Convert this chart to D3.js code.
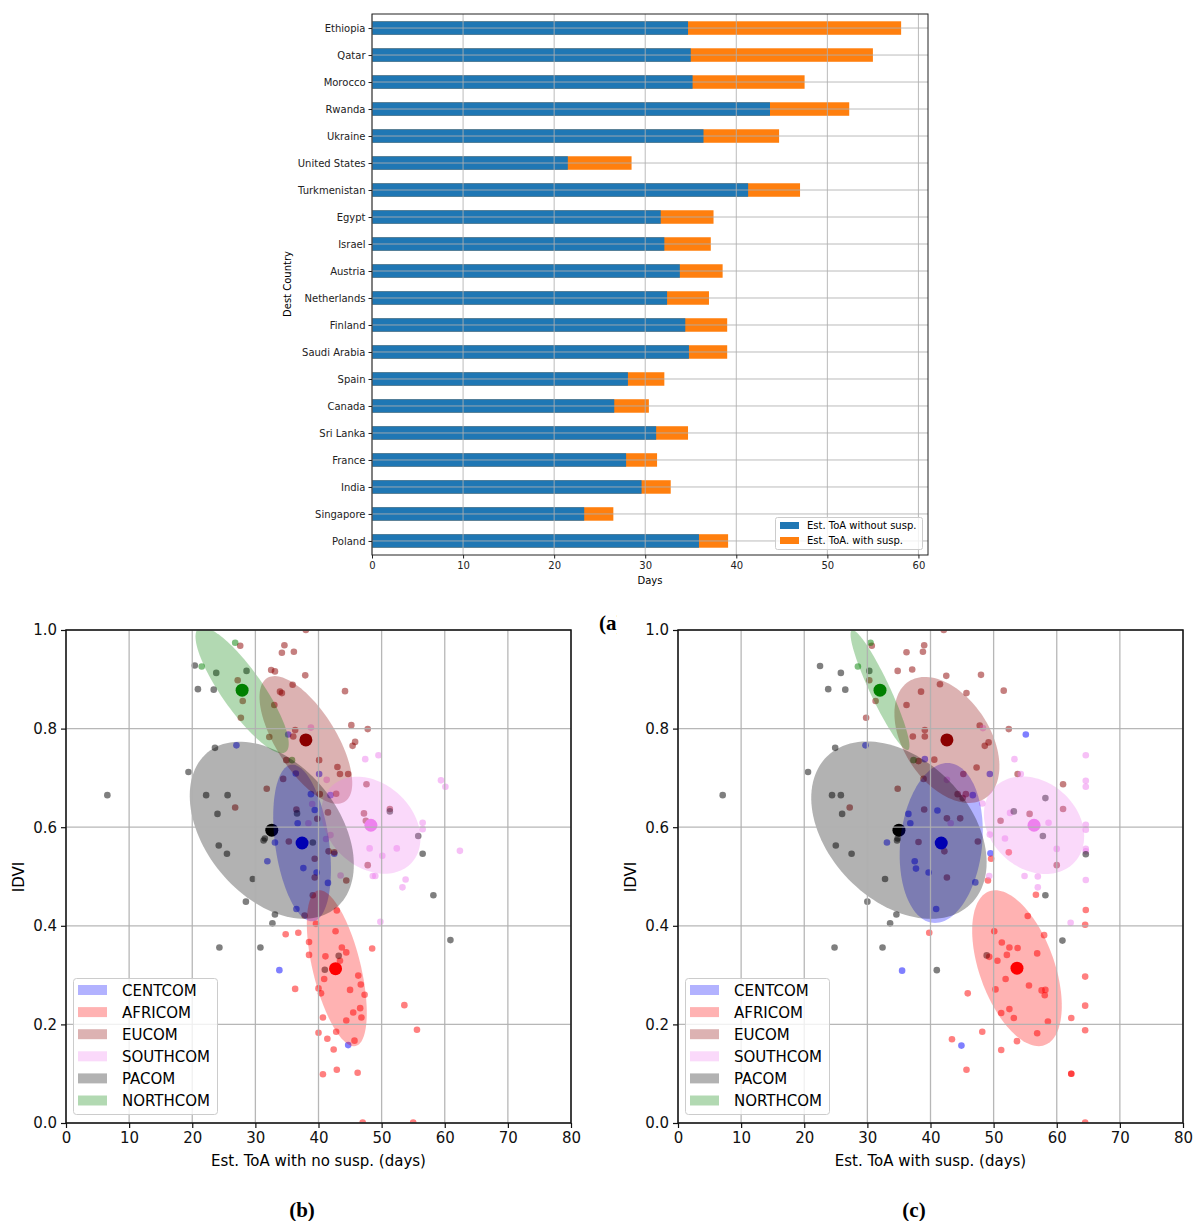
<!DOCTYPE html>
<html>
<head>
<meta charset="utf-8">
<script src="https://cdn.jsdelivr.net/npm/d3@7"></script>
<style>
  body { margin: 0; background: #fff; }
  text { font-family: "DejaVu Sans", sans-serif; }
</style>
</head>
<body>
<svg id="fig" width="1194" height="1221"></svg>
<script>
// ---- (a) bar chart data ----
var countries = ["Ethiopia", "Qatar", "Morocco", "Rwanda", "Ukraine", "United States", "Turkmenistan",
  "Egypt", "Israel", "Austria", "Netherlands", "Finland", "Saudi Arabia", "Spain", "Canada",
  "Sri Lanka", "France", "India", "Singapore", "Poland"];
var toaNoSusp = [34.7, 35.0, 35.2, 43.7, 36.4, 21.5, 41.3, 31.7, 32.1, 33.8, 32.4, 34.4, 34.8, 28.1, 26.6, 31.2, 27.9, 29.6, 23.3, 35.9];
var toaWithSusp = [58.1, 55.0, 47.5, 52.4, 44.7, 28.5, 47.0, 37.5, 37.2, 38.5, 37.0, 39.0, 39.0, 32.1, 30.4, 34.7, 31.3, 32.8, 26.5, 39.1];
var barTicks = [0, 10, 20, 30, 40, 50, 60];
var barLegend = ["Est. ToA without susp.", "Est. ToA. with susp."];

// ---- (b)/(c) scatter data ----
var groups = ["CENTCOM", "AFRICOM", "EUCOM", "SOUTHCOM", "PACOM", "NORTHCOM"];
var groupColors = ["blue", "red", "darkred", "violet", "black", "green"];
var scatterXTicks = [0, 10, 20, 30, 40, 50, 60, 70, 80];
var scatterYTicks = [0, 0.2, 0.4, 0.6, 0.8, 1.0];

// (b) Est. ToA with no susp.
var noSuspCENTCOM = [[27.0,0.766],[35.2,0.788],[36.4,0.709],[40.1,0.708],[41.9,0.665],[38.8,0.667],[39.4,0.635],
  [33.1,0.569],[31.9,0.531],[37.6,0.517],[39.7,0.508],[41.5,0.487],[36.7,0.608],[42.5,0.546],[36.5,0.434],
  [33.8,0.310],[44.7,0.158]];
var noSuspAFRICOM = [[39.6,0.404],[34.8,0.383],[36.8,0.386],[42.9,0.431],[42.7,0.389],[38.5,0.367],[38.5,0.341],
  [43.7,0.356],[44.4,0.346],[41.1,0.338],[43.4,0.329],[48.5,0.354],[40.9,0.292],[46.3,0.299],[46.7,0.281],
  [47.3,0.260],[36.3,0.272],[40.0,0.273],[40.4,0.263],[45.0,0.270],[46.6,0.233],[45.5,0.224],[46.8,0.214],
  [40.7,0.214],[44.4,0.208],[53.6,0.239],[55.6,0.189],[40.0,0.183],[42.8,0.185],[41.4,0.171],[45.7,0.167],
  [42.4,0.149],[40.7,0.099],[42.9,0.108],[46.2,0.102],[47.0,0.001],[55.0,0.001]];
var noSuspEUCOM = [[26.8,0.640],[31.8,0.678],[34.4,0.698],[35.3,0.571],[27.6,0.968],[27.2,0.898],[28.0,0.856],
  [27.7,0.822],[32.2,0.783],[33.0,0.848],[34.6,0.969],[34.2,0.954],[36.1,0.956],[32.5,0.919],[33.1,0.916],
  [35.9,0.889],[33.9,0.875],[34.2,0.872],[36.3,0.797],[36.0,0.784],[34.9,0.736],[38.0,1.0],[37.9,0.908],
  [44.2,0.876],[45.2,0.807],[47.8,0.799],[45.8,0.773],[45.4,0.765],[40.1,0.736],[43.0,0.722],[43.4,0.708],
  [44.7,0.708],[47.6,0.687],[42.8,0.668],[40.2,0.667],[41.5,0.630],[47.2,0.628],[47.5,0.613],[51.3,0.637],
  [47.8,0.523],[44.4,0.492],[42.5,0.549],[41.6,0.551],[39.4,0.536],[39.4,0.498],[39.1,0.462],[37.8,0.421],
  [36.5,0.636],[39.8,0.617]];
var noSuspSOUTHCOM = [[38.8,0.802],[47.4,0.738],[49.5,0.746],[59.4,0.695],[60.1,0.682],[41.3,0.696],[56.5,0.609],
  [56.5,0.596],[48.1,0.557],[52.4,0.557],[50.1,0.542],[62.4,0.552],[48.6,0.501],[49.0,0.501],[53.8,0.494],
  [53.3,0.478],[43.5,0.502],[41.2,0.576],[41.9,0.584],[49.8,0.408],[39.0,0.647],[38.4,0.608]];
var noSuspPACOM = [[6.55,0.665],[19.4,0.712],[23.6,0.761],[22.2,0.665],[25.6,0.665],[24.0,0.627],[24.2,0.563],
  [25.5,0.546],[31.5,0.577],[31.3,0.573],[29.6,0.495],[28.5,0.449],[20.4,0.928],[20.9,0.880],[23.4,0.879],
  [23.8,0.913],[28.6,0.917],[51.3,0.632],[55.8,0.582],[56.5,0.546],[58.2,0.462],[39.1,0.569],[36.6,0.628],
  [33.1,0.423],[32.7,0.405],[43.2,0.339],[41.0,0.311],[24.3,0.356],[30.8,0.356],[60.9,0.371]];
var noSuspNORTHCOM = [[21.5,0.926],[26.8,0.974],[35.8,0.736]];
var noSuspCentroids = [[37.4,0.568],[42.7,0.313],[38.0,0.777],[48.3,0.604],[32.6,0.594],[27.9,0.878]];
// ellipse: centre x, centre y, first semi-axis (dx, dy), second semi-axis (dx, dy)
var noSuspEllipses = [
  [37.4, 0.568, 1.74, -0.1587, -4.23, -0.0076],
  [42.9, 0.314, 2.99, -0.1578, -3.69, -0.0115],
  [38.0, 0.777, 6.15, -0.1254, -4.02, -0.0324],
  [48.3, 0.604, 6.43, -0.0765, -4.50, -0.0619],
  [32.6, 0.594, 10.16, -0.1578, -8.11, -0.0856],
  [27.9, 0.878, 6.89, -0.1256, -2.66, -0.0239]];

// (c) Est. ToA with susp.
var suspCENTCOM = [[29.7,0.766],[33.1,0.569],[39.1,0.738],[49.4,0.708],[46.7,0.665],[36.5,0.627],[41.1,0.634],
  [55.1,0.788],[49.5,0.547],[36.8,0.608],[37.5,0.531],[37.7,0.516],[39.7,0.508],[47.1,0.488],[40.9,0.434],
  [35.5,0.309],[44.9,0.157]];
var suspAFRICOM = [[49.6,0.536],[52.4,0.549],[49.1,0.492],[56.7,0.463],[64.6,0.432],[39.8,0.386],[45.9,0.263],
  [50.1,0.389],[51.3,0.366],[52.5,0.356],[53.8,0.355],[52.1,0.341],[50.6,0.329],[51.9,0.292],[50.3,0.271],
  [64.5,0.402],[55.4,0.420],[58.0,0.381],[56.9,0.344],[49.3,0.337],[64.5,0.297],[55.6,0.279],[57.6,0.269],
  [58.2,0.270],[58.1,0.259],[64.5,0.238],[52.5,0.231],[51.2,0.223],[53.2,0.213],[58.6,0.206],[62.3,0.213],
  [64.5,0.188],[48.2,0.185],[56.9,0.182],[43.4,0.170],[53.7,0.166],[51.2,0.148],[45.7,0.108],[62.3,0.100],
  [62.3,0.100],[64.5,0.001]];
var suspEUCOM = [[27.2,0.640],[34.8,0.678],[30.7,0.968],[30.3,0.898],[31.3,0.856],[29.8,0.822],[36.2,0.848],
  [36.2,0.955],[34.8,0.917],[42.1,1.0],[39.0,0.969],[38.8,0.956],[37.1,0.920],[42.5,0.907],[48.0,0.909],
  [41.5,0.890],[38.5,0.875],[45.7,0.872],[51.6,0.877],[39.1,0.797],[37.2,0.784],[39.1,0.784],[47.8,0.806],
  [52.4,0.799],[48.6,0.765],[49.2,0.772],[38.1,0.734],[40.6,0.737],[47.3,0.721],[45.2,0.708],[38.9,0.698],
  [44.3,0.667],[45.1,0.659],[45.6,0.667],[39.0,0.636],[42.6,0.618],[44.7,0.618],[53.8,0.708],[61.0,0.687],
  [61.0,0.637],[55.7,0.627],[51.1,0.613],[60.0,0.523],[38.1,0.570],[42.2,0.551],[47.5,0.571],[42.6,0.498]];
var suspSOUTHCOM = [[48.3,0.801],[53.3,0.738],[54.3,0.708],[42.6,0.696],[52.6,0.629],[48.2,0.648],[64.6,0.746],
  [64.6,0.694],[64.6,0.682],[58.7,0.609],[64.6,0.605],[64.6,0.595],[49.4,0.585],[51.8,0.577],[60.0,0.556],
  [64.6,0.556],[64.6,0.551],[54.9,0.501],[57.0,0.500],[49.3,0.501],[57.0,0.478],[64.6,0.493],[62.2,0.406],
  [43.2,0.608]];
var suspPACOM = [[7.08,0.665],[20.6,0.712],[24.9,0.761],[24.4,0.665],[25.8,0.665],[26.0,0.627],[25.0,0.563],
  [27.5,0.546],[34.7,0.573],[34.8,0.577],[32.8,0.495],[30.0,0.449],[22.5,0.927],[25.8,0.913],[23.8,0.880],
  [26.5,0.879],[30.3,0.917],[53.2,0.632],[58.2,0.659],[57.8,0.582],[64.6,0.545],[58.2,0.462],[34.6,0.423],
  [33.6,0.405],[24.8,0.356],[32.4,0.356],[41.0,0.310],[48.9,0.340],[60.9,0.370]];
var suspNORTHCOM = [[28.5,0.926],[30.5,0.974],[37.3,0.736]];
var suspCentroids = [[41.7,0.568],[53.7,0.314],[42.6,0.777],[56.4,0.604],[35.0,0.594],[32.0,0.878]];
var suspEllipses = [
  [41.7, 0.568, -1.33, -0.162, -6.45, 0.0087],
  [53.7, 0.314, 4.39, -0.156, -5.58, -0.0257],
  [42.6, 0.777, 6.06, -0.1185, -5.70, -0.0478],
  [56.4, 0.604, 6.52, -0.0736, -4.54, -0.0661],
  [35.0, 0.594, 11.36, -0.150, -8.0, -0.0994],
  [32.0, 0.878, 4.44, -0.1213, -1.44, -0.0086]];

var svg = d3.select("#fig");
var gridColor = "#b0b0b0";

//////////
// (a) stacked horizontal bars
//////////
var xBar = d3.scaleLinear().domain([0, 61.05]).range([372, 928]);
var yBar = d3.scalePoint().domain(countries).range([14, 555]).padding(0.52);
var barH = yBar.step() * 0.5;

var barG = svg.append("g");
barG.selectAll("rect.with")
  .data(countries).enter().append("rect")
    .attr("x", xBar(0))
    .attr("y", function(d) { return yBar(d) - barH / 2; })
    .attr("width", function(d, i) { return xBar(toaWithSusp[i]) - xBar(0); })
    .attr("height", barH)
    .attr("fill", "#ff7f0e");
barG.selectAll("rect.without")
  .data(countries).enter().append("rect")
    .attr("x", xBar(0))
    .attr("y", function(d) { return yBar(d) - barH / 2; })
    .attr("width", function(d, i) { return xBar(toaNoSusp[i]) - xBar(0); })
    .attr("height", barH)
    .attr("fill", "#1f77b4");

// grid drawn over the bars, like the original
barG.selectAll("line.vg").data(barTicks).enter().append("line")
  .attr("x1", function(d) { return xBar(d); }).attr("x2", function(d) { return xBar(d); })
  .attr("y1", 14).attr("y2", 555)
  .attr("stroke", gridColor).attr("stroke-width", 1).attr("opacity", 0.85);
barG.selectAll("line.hg").data(countries).enter().append("line")
  .attr("x1", 372).attr("x2", 928)
  .attr("y1", function(d) { return yBar(d); }).attr("y2", function(d) { return yBar(d); })
  .attr("stroke", gridColor).attr("stroke-width", 1).attr("opacity", 0.85);

barG.append("rect").attr("x", 372).attr("y", 14).attr("width", 556).attr("height", 541)
  .attr("fill", "none").attr("stroke", "#222").attr("stroke-width", 1);

var xAxisBar = barG.append("g").attr("transform", "translate(0,555)")
  .call(d3.axisBottom(xBar).tickValues(barTicks).tickSize(3.5).tickPadding(3));
var yAxisBar = barG.append("g").attr("transform", "translate(372,0)")
  .call(d3.axisLeft(yBar).tickSize(3.5).tickPadding(3));
[xAxisBar, yAxisBar].forEach(function(a) {
  a.select(".domain").remove();
  a.selectAll("text").style("font-size", "10px").attr("fill", "#222");
  a.selectAll("line").attr("stroke", "#222");
});

barG.append("text").attr("x", 650).attr("y", 584).attr("text-anchor", "middle")
  .style("font-size", "10px").text("Days");
barG.append("text").attr("transform", "translate(291,284) rotate(-90)").attr("text-anchor", "middle")
  .style("font-size", "10px").text("Dest Country");

// legend
var tl = barG.append("g");
tl.append("rect").attr("x", 775.5).attr("y", 517.5).attr("width", 147).attr("height", 32).attr("rx", 2)
  .attr("fill", "#fff").attr("fill-opacity", 0.8).attr("stroke", "#ccc");
tl.selectAll("rect.sw").data(barLegend).enter().append("rect")
  .attr("x", 780).attr("y", function(d, i) { return 522 + i * 15; })
  .attr("width", 19).attr("height", 7)
  .attr("fill", function(d, i) { return i === 0 ? "#1f77b4" : "#ff7f0e"; });
tl.selectAll("text.lb").data(barLegend).enter().append("text")
  .attr("x", 807).attr("y", function(d, i) { return 529 + i * 15; })
  .style("font-size", "10px").text(function(d) { return d; });

// "(a)" caption, partly hidden in the original
svg.append("defs").append("clipPath").attr("id", "clipA")
  .append("rect").attr("x", 590).attr("y", 600).attr("width", 27).attr("height", 40);
svg.append("text").attr("x", 599).attr("y", 630).attr("clip-path", "url(#clipA)")
  .style("font-family", "'Liberation Serif', serif").style("font-weight", "bold").style("font-size", "21px")
  .text("(a)");

//////////
// (b) and (c) scatter panels
//////////
function scatterPanel(id, left, xLabel, caption, pointSets, centroids, ellipses) {
  var x = d3.scaleLinear().domain([0, 80]).range([left, left + 505]);
  var y = d3.scaleLinear().domain([0, 1]).range([1123, 630]);
  var g = svg.append("g");

  g.append("clipPath").attr("id", "clip" + id)
    .append("rect").attr("x", left).attr("y", 630).attr("width", 505).attr("height", 493);
  var plot = g.append("g").attr("clip-path", "url(#clip" + id + ")");

  // points
  pointSets.forEach(function(pts, gi) {
    plot.selectAll("circle.p" + gi).data(pts).enter().append("circle")
      .attr("class", "p" + gi)
      .attr("cx", function(d) { return x(d[0]); })
      .attr("cy", function(d) { return y(d[1]); })
      .attr("r", 3.3)
      .attr("fill", groupColors[gi]).attr("fill-opacity", 0.5);
  });
  // centroids
  plot.selectAll("circle.c").data(centroids).enter().append("circle")
    .attr("class", "c")
    .attr("cx", function(d) { return x(d[0]); })
    .attr("cy", function(d) { return y(d[1]); })
    .attr("r", 6.5)
    .attr("fill", function(d, i) { return groupColors[i]; });
  // ellipses
  var line = d3.line().curve(d3.curveLinearClosed);
  var ts = d3.range(0, 2 * Math.PI, Math.PI / 60);
  plot.selectAll("path.e").data(ellipses).enter().append("path")
    .attr("class", "e")
    .attr("d", function(e) {
      return line(ts.map(function(t) {
        return [x(e[0] + e[2] * Math.cos(t) + e[4] * Math.sin(t)),
                y(e[1] + e[3] * Math.cos(t) + e[5] * Math.sin(t))];
      }));
    })
    .attr("fill", function(d, i) { return groupColors[i]; })
    .attr("fill-opacity", 0.3);

  // grid on top
  g.selectAll("line.gx").data(scatterXTicks).enter().append("line")
    .attr("x1", function(d) { return x(d); }).attr("x2", function(d) { return x(d); })
    .attr("y1", 630).attr("y2", 1123)
    .attr("stroke", gridColor).attr("stroke-width", 1.3).attr("opacity", 0.9);
  g.selectAll("line.gy").data(scatterYTicks).enter().append("line")
    .attr("x1", left).attr("x2", left + 505)
    .attr("y1", function(d) { return y(d); }).attr("y2", function(d) { return y(d); })
    .attr("stroke", gridColor).attr("stroke-width", 1.3).attr("opacity", 0.9);

  g.append("rect").attr("x", left).attr("y", 630).attr("width", 505).attr("height", 493)
    .attr("fill", "none").attr("stroke", "#111").attr("stroke-width", 1.5);

  var xa = g.append("g").attr("transform", "translate(0,1123)")
    .call(d3.axisBottom(x).tickValues(scatterXTicks).tickSize(5).tickPadding(4));
  var ya = g.append("g").attr("transform", "translate(" + left + ",0)")
    .call(d3.axisLeft(y).tickValues(scatterYTicks).tickFormat(d3.format(".1f")).tickSize(5).tickPadding(4));
  [xa, ya].forEach(function(a) {
    a.select(".domain").remove();
    a.selectAll("text").style("font-size", "15px").attr("fill", "#111");
    a.selectAll("line").attr("stroke", "#111").attr("stroke-width", 1.2);
  });

  g.append("text").attr("x", left + 252.5).attr("y", 1166).attr("text-anchor", "middle")
    .style("font-size", "15px").text(xLabel);
  g.append("text").attr("transform", "translate(" + (left - 42) + ",877) rotate(-90)")
    .attr("text-anchor", "middle").style("font-size", "15px").text("IDVI");

  // legend
  var lg = g.append("g");
  lg.append("rect").attr("x", left + 7.5).attr("y", 978.5).attr("width", 144).attr("height", 136).attr("rx", 3)
    .attr("fill", "#fff").attr("fill-opacity", 0.8).attr("stroke", "#ccc");
  lg.selectAll("rect.sw").data(groups).enter().append("rect")
    .attr("x", left + 12).attr("y", function(d, i) { return 985 + i * 22.1; })
    .attr("width", 29).attr("height", 10)
    .attr("fill", function(d, i) { return groupColors[i]; }).attr("fill-opacity", 0.3);
  lg.selectAll("text.lb").data(groups).enter().append("text")
    .attr("x", left + 56).attr("y", function(d, i) { return 995.5 + i * 22.1; })
    .style("font-size", "15px").text(function(d) { return d; });

  svg.append("text").attr("x", left + 236).attr("y", 1217).attr("text-anchor", "middle")
    .style("font-family", "'Liberation Serif', serif").style("font-weight", "bold").style("font-size", "21px")
    .text(caption);
}

scatterPanel("b", 66, "Est. ToA with no susp. (days)", "(b)",
  [noSuspCENTCOM, noSuspAFRICOM, noSuspEUCOM, noSuspSOUTHCOM, noSuspPACOM, noSuspNORTHCOM],
  noSuspCentroids, noSuspEllipses);
scatterPanel("c", 678, "Est. ToA with susp. (days)", "(c)",
  [suspCENTCOM, suspAFRICOM, suspEUCOM, suspSOUTHCOM, suspPACOM, suspNORTHCOM],
  suspCentroids, suspEllipses);
</script>
</body>
</html>
